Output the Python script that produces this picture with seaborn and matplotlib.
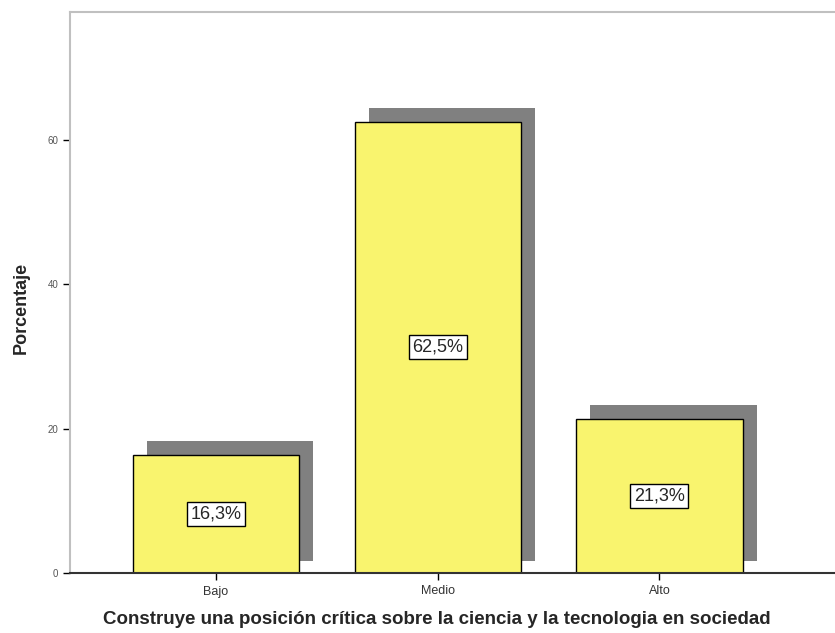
import matplotlib
matplotlib.use("Agg")
import matplotlib.pyplot as plt
import seaborn as sns
import numpy as np
import pandas as pd

categories = ["Bajo", "Medio", "Alto"]
values = [16.3, 62.5, 21.3]
value_labels = ["16,3%", "62,5%", "21,3%"]
y_ticks = [0, 20, 40, 60]

sns.set_style("white")
plt.rcParams['font.family'] = ['Liberation Sans', 'DejaVu Sans']

df = pd.DataFrame({"cat": categories, "pct": values})

fig = plt.figure(figsize=(8.35, 6.33), dpi=100)
ax = fig.add_axes([70/835, 60/633, 1 - 70/835 + 0.01, (573-12)/633])

px_per_unit = 7.22
px_per_cat = 221.7

# shadows
xs = np.arange(len(categories))
dx = 14/px_per_cat
bottom_off = 12/px_per_unit
top_off = 14/px_per_unit
ax.bar(xs + dx, [v + top_off - bottom_off for v in values], width=0.75,
       bottom=bottom_off, color="#808080", edgecolor="none", zorder=1)

sns.barplot(data=df, x="cat", y="pct", order=categories, color="#f9f46e",
            saturation=1, width=0.75, edgecolor="black", linewidth=1.0,
            ax=ax, zorder=2)

for i, (v, lab) in enumerate(zip(values, value_labels)):
    ax.text(i, v/2, lab, ha="center", va="center", fontsize=13, zorder=5,
            bbox=dict(boxstyle="square,pad=0.2", facecolor="white", edgecolor="black", linewidth=1))

ax_w_px = 835*(1 - 70/835 + 0.01)
left = -146/px_per_cat
ax.set_xlim(left, left + ax_w_px/px_per_cat)
ax.set_ylim(0, (573-12)/px_per_unit)
ax.set_yticks(y_ticks)
ax.set_yticklabels([str(t) for t in y_ticks], fontsize=7, color="#555555")
ax.tick_params(axis="x", labelsize=9, length=5, width=1, color="black", direction="out",
               bottom=True, labelcolor="#333333", pad=4)
ax.tick_params(axis="y", length=5, width=1, color="black", direction="out", left=True)

ax.set_ylabel("Porcentaje", fontsize=13, fontweight="bold")
ax.set_xlabel("Construye una posición crítica sobre la ciencia y la tecnologia en sociedad",
              fontsize=13.5, fontweight="bold")
ax.xaxis.set_label_coords((437 - 70)/ax_w_px, -38/561)
ax.yaxis.set_label_coords(-40/ax_w_px, (573 - 308)/561)

for s in ["left", "top"]:
    ax.spines[s].set_color("#c0c0c0")
    ax.spines[s].set_linewidth(1.5)
ax.spines["right"].set_visible(False)
ax.spines["bottom"].set_color("#333333")
ax.spines["bottom"].set_linewidth(1.5)

fig.savefig("out.png", dpi=100)
